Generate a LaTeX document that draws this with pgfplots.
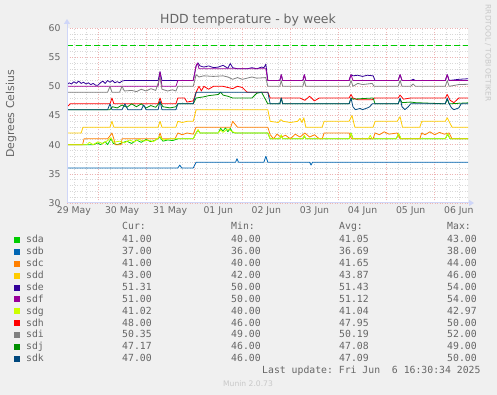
\documentclass[border=0pt]{standalone}
\usepackage{fontspec}
\setmainfont{DejaVu Sans}
\setmonofont{DejaVu Sans Mono}
\usepackage{pgfplots}
\pgfplotsset{compat=1.18}
\usetikzlibrary{arrows.meta}
\definecolor{bg}{HTML}{F0F0F0}
\definecolor{fontc}{HTML}{666666}
\definecolor{axisc}{HTML}{CFD6F8}
\definecolor{mgrid}{HTML}{EDB4B4}
\definecolor{ngrid}{HTML}{D8D8D8}
\definecolor{rrdc}{HTML}{C8C8C8}
\definecolor{cA}{HTML}{00CC00}
\definecolor{cB}{HTML}{0066B3}
\definecolor{cC}{HTML}{FF8000}
\definecolor{cD}{HTML}{FFCC00}
\definecolor{cE}{HTML}{330099}
\definecolor{cF}{HTML}{990099}
\definecolor{cG}{HTML}{CCFF00}
\definecolor{cH}{HTML}{FF0000}
\definecolor{cI}{HTML}{808080}
\definecolor{cJ}{HTML}{008F00}
\definecolor{cK}{HTML}{00487D}
\definecolor{warn}{HTML}{00CC00}
\newcommand{\legrow}[7]{%
  \pgfmathsetmacro{\yy}{395-(240+11.9*#1)}%
  \fill[#2] (14pt,\yy pt-3pt) rectangle (20pt,\yy pt+3pt);
  \node[anchor=mid west,inner sep=0pt] at (26pt,\yy pt) {#3};
  \node[anchor=mid west,inner sep=0pt] at (122pt,\yy pt) {#4};
  \node[anchor=mid west,inner sep=0pt] at (231pt,\yy pt) {#5};
  \node[anchor=mid west,inner sep=0pt] at (339pt,\yy pt) {#6};
  \node[anchor=mid west,inner sep=0pt] at (447pt,\yy pt) {#7};
}
\begin{document}
\begin{tikzpicture}[text=fontc]
\fill[bg] (0,0) rectangle (497pt,395pt);
\begin{axis}[
  at={(67pt,192pt)}, anchor=south west,
  scale only axis, width=401pt, height=175pt,
  xmin=0.356, xmax=8.692, ymin=30, ymax=60,
  axis background/.style={fill=white},
  axis line style={draw=none},
  tick label style={font=\fontsize{9.3}{11}\selectfont, text=fontc},
  /pgf/number format/assume math mode=true,
  xtick={0.5,1.5,...,8.5},
  xticklabels={29 May,30 May,31 May,01 Jun,02 Jun,03 Jun,04 Jun,05 Jun,06 Jun},
  minor xtick={0.5,0.75,...,8.6},
  extra x ticks={1,2,...,8},
  extra x tick labels={},
  extra x tick style={grid=major},
  xmajorgrids=false, xminorgrids=true,
  ytick={30,35,...,60},
  minor ytick={30,31,...,60},
  ymajorgrids=true, yminorgrids=true,
  major grid style={mgrid, line width=0.5pt, dash pattern=on 1pt off 1.5pt},
  minor grid style={ngrid, line width=0.5pt, dash pattern=on 1pt off 1.5pt},
  major tick length=0pt, minor tick length=0pt,
  yticklabel style={xshift=-3pt},
  every axis plot/.append style={line width=0.8pt, line join=round, no markers},
  clip=true,
]
% sda
\addplot[cA] coordinates {(0.356,40)(0.9,40)(1.0,40.3)(1.05,40)(1.15,40.5)(1.2,40)(1.27,41)(1.32,40.2)(1.4,40)(1.5,40.3)(1.6,40.6)(1.7,40.2)(1.8,40.8)(1.9,40.4)(2.0,40.9)(2.1,40.5)(2.2,40.8)(2.29,41.3)(2.35,40.6)(2.45,40.8)(2.55,40.7)(2.66,41)(2.98,41)(3.04,42)(3.08,42.5)(3.12,42)(3.5,42)(3.55,42.8)(3.6,42.3)(3.65,42.9)(3.7,42.2)(3.75,42.8)(3.8,42.1)(3.85,42)(4.53,42)(4.58,41)(4.78,41)(4.81,41.6)(4.84,41)(5.26,41)(5.29,41.5)(5.32,41)(6.22,41)(6.26,42)(6.3,41)(7.2,41)(7.25,41.8)(7.3,41)(8.22,41)(8.27,41.8)(8.32,41)(8.692,41)};
% sdb
\addplot[cB] coordinates {(0.356,36)(2.66,36)(2.70,36.5)(2.74,36)(2.98,36)(3.04,37)(3.86,37)(3.89,37.6)(3.92,37)(4.45,37)(4.49,38)(4.53,37)(5.40,37)(5.43,36.5)(5.46,37)(8.692,37)};
% sdc
\addplot[cC] coordinates {(0.356,40)(0.68,40)(0.71,41)(1.2,41)(1.25,41.5)(1.29,42)(1.33,41)(1.36,40)(1.48,40)(1.5,41)(2.25,41)(2.29,42)(2.33,41)(2.6,41)(2.66,42)(2.75,41.7)(2.85,42)(2.98,41.8)(3.04,43)(3.76,43)(3.8,44)(3.85,43.5)(3.9,43)(4.53,43)(4.58,41.7)(4.65,41)(4.72,41.8)(4.8,41.3)(4.9,41.6)(5.0,41)(5.1,41.8)(5.2,41.3)(5.3,42)(5.4,41.3)(5.5,41.7)(5.6,41)(5.66,41)(5.7,42)(6.22,42)(6.27,41)(6.72,41)(6.76,42)(6.85,41.7)(6.95,42.2)(7.05,41.8)(7.22,42)(7.28,41)(7.69,41)(7.73,42)(7.8,41.7)(7.9,42.2)(8.0,41.7)(8.1,42.1)(8.2,41.8)(8.3,42)(8.36,41)(8.692,41)};
% sdd
\addplot[cD] coordinates {(0.356,42)(0.65,42)(0.69,43)(1.25,43)(1.29,44)(1.33,43)(2.25,43)(2.29,44)(2.33,43)(2.62,43)(2.66,44)(2.75,43.8)(2.85,44)(2.98,44)(3.04,46)(4.53,46)(4.58,44)(4.75,43.8)(4.8,44.3)(4.85,44)(5.0,43.8)(5.15,44)(5.2,44.5)(5.24,43.8)(5.28,44.6)(5.32,43)(5.66,43)(5.7,44)(6.22,44)(6.28,45)(6.34,43)(6.72,43)(6.76,44)(7.22,44)(7.28,44.8)(7.33,43)(7.69,43)(7.73,44)(8.22,44)(8.26,44.6)(8.36,43)(8.692,43)};
% sde
\addplot[cE] coordinates {(0.356,50.3)(0.4,50.6)(0.45,50.4)(0.5,50.8)(0.55,50.5)(0.6,50.9)(0.65,50.5)(0.7,50.7)(0.75,50.4)(0.8,50.6)(0.85,50.3)(0.9,50.5)(0.95,50.2)(1.0,50.2)(1.05,50.6)(1.1,50.9)(1.15,50.5)(1.2,51)(1.25,50.7)(1.3,51)(1.35,50.6)(1.4,50.8)(1.45,50.6)(1.5,50.9)(1.56,51)(2.25,51)(2.29,52.5)(2.33,51)(2.98,51)(3.04,53.5)(3.08,54)(3.12,53.5)(3.2,53.3)(3.3,53.5)(3.4,53.2)(3.5,53.3)(3.6,53.6)(3.7,53.1)(3.75,53.9)(3.8,53.2)(3.9,53)(4.1,53)(4.2,53.2)(4.3,53.0)(4.4,53.3)(4.45,53.2)(4.49,53.8)(4.53,51)(4.78,51)(4.81,52)(4.84,51)(5.26,51)(5.29,52)(5.32,51)(6.22,51)(6.26,52)(6.3,51.8)(6.4,51.9)(6.5,51.7)(6.6,51.9)(6.72,51.8)(6.76,51)(7.24,51)(7.28,52)(7.32,51)(7.5,51)(7.55,51.2)(7.6,51)(8.22,51)(8.26,52)(8.3,51)(8.5,51.2)(8.692,51.3)};
% sdf
\addplot[cF] coordinates {(0.356,50)(2.25,50)(2.29,52.5)(2.33,50)(2.62,50)(2.66,51)(2.98,51)(3.04,53.5)(3.07,54)(3.1,53)(4.49,53)(4.53,51)(4.78,51)(4.81,52)(4.84,51)(5.26,51)(5.29,52)(5.32,51)(6.22,51)(6.26,52)(6.3,51)(7.24,51)(7.28,52)(7.32,51)(8.22,51)(8.26,52)(8.3,51)(8.692,51)};
% sdg
\addplot[cG] coordinates {(0.356,40)(0.77,40)(0.82,40.4)(0.9,40)(1.0,40.5)(1.1,40.2)(1.2,40.7)(1.27,41.2)(1.32,40.4)(1.45,40.6)(1.55,40.3)(1.65,40.8)(1.75,40.5)(1.85,40.9)(1.95,40.6)(2.05,40.8)(2.15,40.5)(2.29,41.4)(2.35,40.8)(2.5,41)(2.98,41)(3.04,42)(3.08,42.6)(3.12,42)(3.5,42)(3.55,42.5)(3.6,42.1)(3.7,42.7)(3.8,42.2)(3.88,42)(4.53,42)(4.58,41)(4.78,41)(4.81,41.7)(4.84,41)(5.26,41)(5.29,41.6)(5.32,41)(6.22,41)(6.26,42)(6.3,41)(6.62,41)(6.66,41.6)(6.7,41)(7.2,41)(7.25,41.9)(7.3,41)(8.22,41)(8.27,41.9)(8.32,41)(8.692,41.02)};
% sdh
\addplot[cH] coordinates {(0.356,46.5)(0.40,46.8)(0.42,47)(1.25,47)(1.29,48)(1.33,47)(2.25,47)(2.29,48)(2.33,47)(2.62,47)(2.66,48)(2.8,48)(2.85,47.3)(2.98,47.5)(3.04,49)(3.1,50)(3.15,49.2)(3.2,50)(3.3,49.5)(3.4,50)(3.6,50)(3.8,49.6)(3.9,50)(4.0,49.8)(4.1,49)(4.53,49)(4.58,48)(5.2,48)(5.3,47.6)(5.4,48.3)(5.5,47.5)(5.6,48)(6.22,48)(6.26,48.6)(6.3,48)(6.4,47.7)(6.7,47.7)(6.75,48)(7.24,48)(7.28,48.5)(7.35,47.8)(7.5,48)(8.22,48)(8.26,48.6)(8.32,47.6)(8.4,47.2)(8.5,48)(8.692,48)};
% sdi
\addplot[cI] coordinates {(0.356,49)(1.2,49)(1.25,50)(1.29,49)(1.45,49)(1.5,50)(1.55,49.2)(1.7,49.3)(1.8,49.1)(1.9,49.5)(2.0,49.2)(2.1,49.6)(2.2,49.3)(2.29,51.5)(2.33,49.5)(2.45,49.2)(2.55,49.4)(2.62,49.2)(2.66,50)(2.98,50)(3.04,52)(3.1,51.6)(3.2,51.8)(3.4,51.7)(3.6,51.8)(3.7,51.6)(3.8,51.2)(3.9,51.5)(4.0,51.2)(4.1,51.4)(4.2,51.6)(4.3,51.4)(4.49,51.5)(4.53,50)(4.78,50)(4.81,51)(4.84,50)(5.26,50)(5.29,51)(5.32,50)(6.22,50)(6.26,51)(6.3,50)(6.4,50.5)(6.5,50.3)(6.7,50.5)(6.74,50)(7.24,50)(7.28,51)(7.32,50)(7.5,50)(7.55,50.4)(7.6,50)(8.22,50)(8.26,51)(8.3,50)(8.5,50.3)(8.692,50.35)};
% sdj
\addplot[cJ] coordinates {(0.356,46)(1.25,46)(1.3,46.5)(1.4,46.3)(1.5,46.8)(1.6,46.4)(1.7,47)(1.8,46.5)(1.9,47)(2.0,46.3)(2.1,46.7)(2.2,46.4)(2.29,47.3)(2.35,46.5)(2.5,46.3)(2.62,46.5)(2.66,47)(2.98,47)(3.04,48)(3.2,48.2)(3.3,48.4)(3.5,48.6)(3.55,49)(3.6,48.5)(3.7,48.3)(3.8,48)(4.2,48)(4.3,48.8)(4.4,49)(4.53,47)(4.78,47)(4.81,48)(4.84,47)(6.22,47)(6.26,48)(6.3,47.8)(6.5,47.9)(6.72,48)(6.76,47)(7.24,47)(7.28,47.8)(7.32,47.2)(7.5,47.3)(7.6,47.2)(8.22,47)(8.26,47.8)(8.3,47)(8.692,47.17)};
% sdk
\addplot[cK] coordinates {(0.356,46)(1.2,46)(1.25,47)(1.29,46)(1.5,46)(1.56,47)(1.62,46)(1.9,46)(1.95,46.8)(2.0,46)(2.25,46)(2.29,47.5)(2.33,46)(2.62,46)(2.66,47)(2.98,47)(3.04,49)(4.53,49)(4.58,47)(4.78,47)(4.81,48)(4.84,47)(6.22,47)(6.26,48)(6.3,46.5)(6.35,46)(6.45,46.2)(6.5,46)(6.6,46.3)(6.65,46.5)(6.7,47)(7.24,47)(7.28,48)(7.32,46.5)(7.38,46)(7.45,46.5)(7.5,47)(8.22,47)(8.26,48)(8.3,47)(8.35,46.3)(8.4,46)(8.5,46.3)(8.55,47)(8.692,47)};
% warning rule at 57
\addplot[draw=warn, line width=1pt, dash pattern=on 6pt off 3pt, forget plot] coordinates {(0.356,57) (8.692,57)};
\end{axis}
% axis lines with arrows
\draw[axisc, line width=1pt, -{Triangle[length=5pt,width=6pt]}] (67pt,191.5pt) -- (67pt,376pt);
\draw[axisc, line width=1pt, -{Triangle[length=5pt,width=6pt]}] (66.5pt,192pt) -- (474pt,192pt);
% title and labels
\node[font=\fontsize{12.5}{14}\selectfont] at (248pt,375pt) {HDD temperature - by week};
\node[rotate=90, font=\fontsize{10.9}{12}\selectfont] at (11pt,281pt) {Degrees Celsius};
\node[rotate=-90, text=rrdc, font=\fontsize{7.5}{9}\selectfont] at (488pt,342pt) {RRDTOOL / TOBI OETIKER};
% legend
\begin{scope}[font=\ttfamily\fontsize{9.8}{11}\selectfont]
\node[anchor=mid west,inner sep=0pt] at (122pt,168pt) {Cur:};
\node[anchor=mid west,inner sep=0pt] at (231pt,168pt) {Min:};
\node[anchor=mid west,inner sep=0pt] at (339pt,168pt) {Avg:};
\node[anchor=mid west,inner sep=0pt] at (447pt,168pt) {Max:};
\legrow{0}{cA}{sda}{41.00}{40.00}{41.05}{43.00}
\legrow{1}{cB}{sdb}{37.00}{36.00}{36.69}{38.00}
\legrow{2}{cC}{sdc}{41.00}{40.00}{41.65}{44.00}
\legrow{3}{cD}{sdd}{43.00}{42.00}{43.87}{46.00}
\legrow{4}{cE}{sde}{51.31}{50.00}{51.43}{54.00}
\legrow{5}{cF}{sdf}{51.00}{50.00}{51.12}{54.00}
\legrow{6}{cG}{sdg}{41.02}{40.00}{41.04}{42.97}
\legrow{7}{cH}{sdh}{48.00}{46.00}{47.95}{50.00}
\legrow{8}{cI}{sdi}{50.35}{49.00}{50.19}{52.00}
\legrow{9}{cJ}{sdj}{47.17}{46.00}{47.08}{49.00}
\legrow{10}{cK}{sdk}{47.00}{46.00}{47.09}{50.00}
\node[anchor=mid west,inner sep=0pt] at (262pt,24pt) {Last update: Fri Jun~~6 16:30:34 2025};
\end{scope}
\node[text=rrdc, font=\fontsize{7.6}{9}\selectfont] at (248pt,11pt) {Munin 2.0.73};
\end{tikzpicture}
\end{document}
